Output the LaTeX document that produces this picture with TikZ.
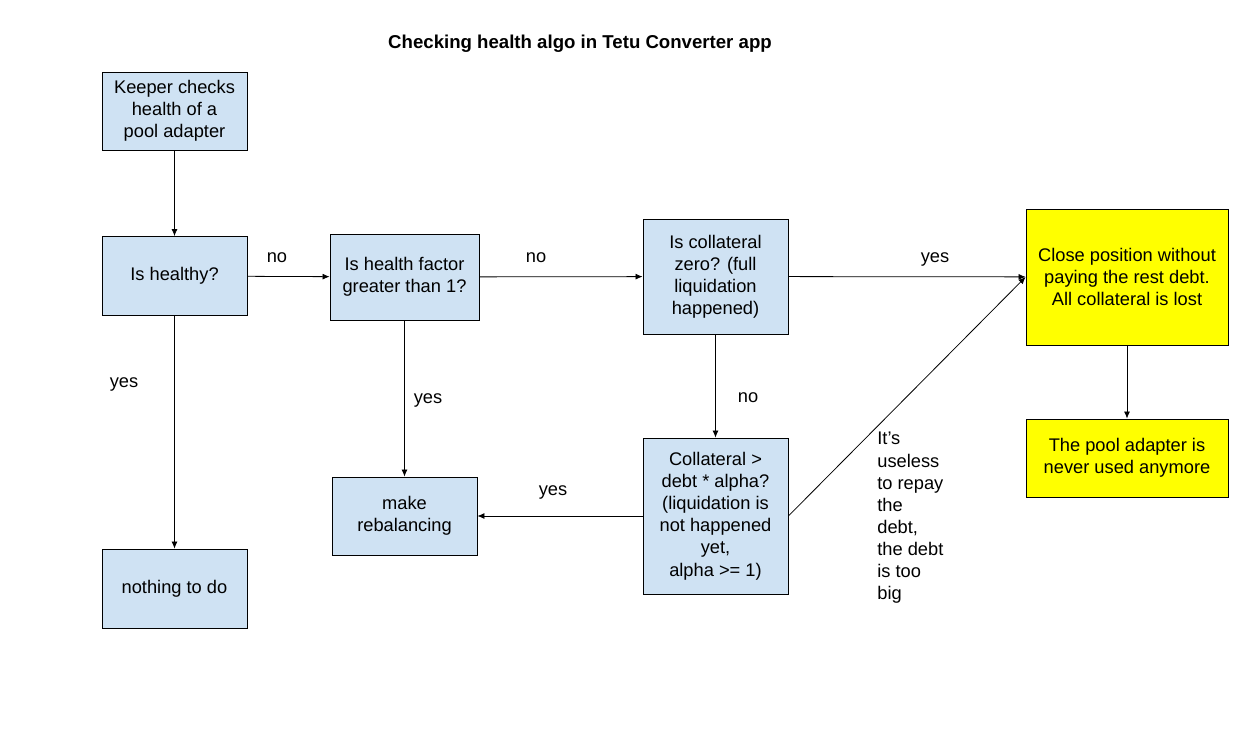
\documentclass[tikz,border=0pt]{standalone}
\usepackage{fontspec}
\setmainfont{Liberation Sans}
\usepackage{tikz}
\usetikzlibrary{positioning,arrows.meta}
\definecolor{boxblue}{HTML}{CFE2F3}
\definecolor{boxyellow}{HTML}{FFFF00}
\tikzset{block/.style={draw,line width=0.5pt,fill=boxblue,align=center,inner sep=0pt,
                       font=\fontsize{10.4}{12.6}\selectfont},
         endblock/.style={block,fill=boxyellow},
         lbl/.style={font=\fontsize{10.4}{12.6}\selectfont,inner sep=0pt}
}
\tikzstyle{arrow} = [line width=0.45pt,-{Latex[length=4pt,width=3.4pt]}]

\begin{document}
\begin{tikzpicture}[x=0.02cm,y=-0.02cm]
\useasboundingbox (0,0) rectangle (1248,747);

\node[font=\bfseries\fontsize{10.6}{12}\selectfont] (title) at (580,44) {Checking health algo in Tetu Converter app};

\node[block,minimum width=2.9cm,minimum height=1.56cm] (keeper) at (174.5,111) {Keeper checks\\health of a\\pool adapter};
\node[block,minimum width=2.9cm,minimum height=1.58cm] (healthy) at (174.5,276) {Is healthy?};
\node[block,minimum width=2.98cm,minimum height=1.72cm] (factor) at (404.5,277) {Is health factor\\greater than 1?};
\node[block,minimum width=2.9cm,minimum height=2.3cm] (zero) at (715.5,276.5) {Is collateral\\zero? (full\\liquidation\\happened)};
\node[block,minimum width=2.9cm,minimum height=3.12cm] (alpha) at (715.5,516) {Collateral >\\debt * alpha?\\(liquidation is\\not happened\\yet,\\alpha >= 1)};
\node[block,minimum width=2.9cm,minimum height=1.56cm] (rebal) at (404.5,516) {make\\rebalancing};
\node[block,minimum width=2.9cm,minimum height=1.58cm] (nothing) at (174.5,588.5) {nothing to do};
\node[endblock,minimum width=4.04cm,minimum height=2.72cm] (close) at (1127,277) {Close position without\\paying the rest debt.\\All collateral is lost};
\node[endblock,minimum width=4.04cm,minimum height=1.56cm] (never) at (1127,458) {The pool adapter is\\never used anymore};

\node[lbl] (nohealthy) at (277,258) {no};
\node[lbl] (nofactor) at (536,258) {no};
\node[lbl] (yeszero) at (935,259) {yes};
\node[lbl] (yeshealthy) at (124,384) {yes};
\node[lbl] (yesfactor) at (428,400) {yes};
\node[lbl] (nozero) at (748,398) {no};
\node[lbl] (yesalpha) at (553,492) {yes};
\node[lbl,anchor=north west,align=left] (useless) at (877,432) {It’s\\useless\\to repay\\the\\debt,\\the debt\\is too\\big};

\draw[arrow] (keeper)--(healthy);
\draw[arrow] (healthy)--(factor);
\draw[arrow] (factor)--(zero);
\draw[arrow] (zero)--(close);
\draw[arrow] (close)--(never);
\draw[arrow] (zero)--(alpha);
\draw[arrow] (alpha)--(rebal);
\draw[arrow] (factor)--(rebal);
\draw[arrow] (healthy)--(nothing);
\draw[arrow] (alpha.east)--(close.west);

\end{tikzpicture}
\end{document}
